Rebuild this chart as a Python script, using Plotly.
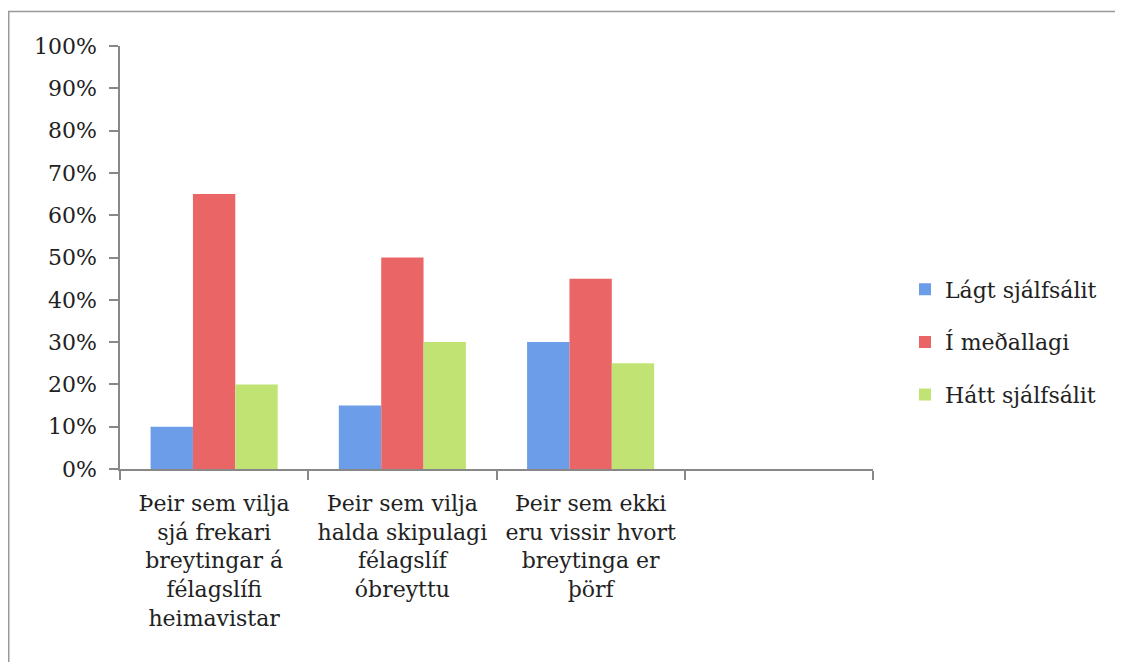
import plotly.graph_objects as go

categories = [
    "Þeir sem vilja<br>sjá frekari<br>breytingar á<br>félagslífi<br>heimavistar",
    "Þeir sem vilja<br>halda skipulagi<br>félagslíf<br>óbreyttu",
    "Þeir sem ekki<br>eru vissir hvort<br>breytinga er<br>þörf",
    " ",
]
series_names = ["Lágt sjálfsálit", "Í meðallagi", "Hátt sjálfsálit"]
lagt = [0.10, 0.15, 0.30]
medal = [0.65, 0.50, 0.45]
hatt = [0.20, 0.30, 0.25]
colors = ["#6C9DE8", "#EA6666", "#C0E373"]

FONT = "DejaVu Serif"
FS = 22
fig = go.Figure()
for i, (name, vals) in enumerate(zip(series_names, [lagt, medal, hatt])):
    fig.add_trace(go.Bar(
        x=categories[:3], y=vals, name=name,
        marker=dict(color=colors[i], line=dict(width=0)),
        legendgroup=f"g{i}",
    ))

# page body has an 8px margin; figure coords = screen - 8
W, H = 1115, 654
L, R, T, B = 112, 250, 38, 193
pw, ph = W - L - R, H - T - B
px = lambda x: (x - 8 - L) / pw          # screen x -> paper
py = lambda y: (H - B - (y - 8)) / ph    # screen y -> paper

fig.update_layout(
    width=W, height=H,
    margin=dict(l=L, r=R, t=T, b=B, autoexpand=False),
    paper_bgcolor="white", plot_bgcolor="white",
    barmode="group", bargap=0.325, bargroupgap=0,
    font=dict(family=FONT, size=FS, color="#222"),
    showlegend=True,
    legend=dict(x=px(905), y=py(342), xanchor="left", yanchor="middle",
                font=dict(size=FS, color="#222"), tracegroupgap=21,
                itemwidth=30, bgcolor="rgba(0,0,0,0)"),
    xaxis=dict(type="category", categoryorder="array", categoryarray=categories,
               range=[-0.5, 3.5], tickson="boundaries", ticks="outside",
               ticklen=9, tickcolor="#888", tickwidth=1.5, automargin=False,
               showline=True, linecolor="#888", linewidth=1.5,
               showgrid=False, tickfont=dict(size=FS, color="#222"),
               ticklabelstandoff=14),
    yaxis=dict(range=[0, 1], tickvals=[i / 10 for i in range(11)],
               tickformat=".0%", ticks="outside", ticklen=9, tickcolor="#888",
               tickwidth=1.5, showline=True, linecolor="#888", linewidth=1.5,
               showgrid=False, zeroline=False, automargin=False,
               tickfont=dict(size=FS, color="#222"), ticklabelstandoff=8),
    shapes=[
        dict(type="line", xref="paper", yref="paper", x0=px(8.75), x1=px(8.75),
             y0=py(11.5), y1=py(700), line=dict(color="#999", width=1.5)),
        dict(type="line", xref="paper", yref="paper", x0=px(8), x1=px(1130),
             y0=py(11.5), y1=py(11.5), line=dict(color="#999", width=1.5)),
    ],
)
fig.write_html("out.html")
